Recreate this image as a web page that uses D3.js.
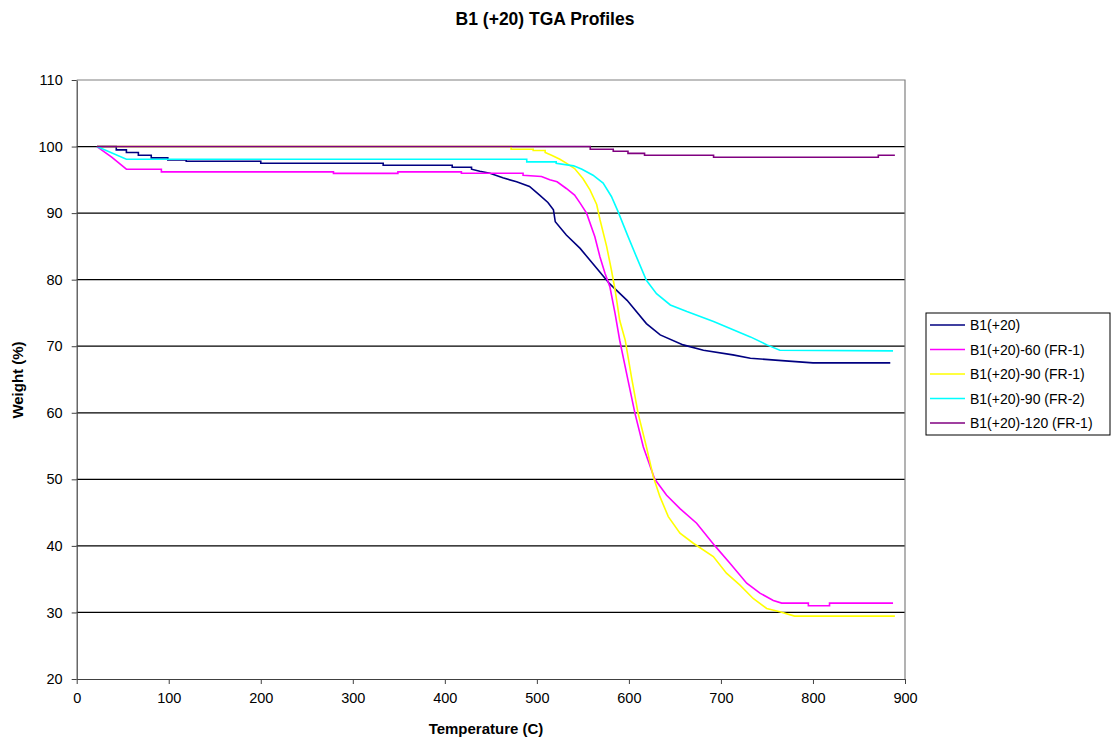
<!DOCTYPE html>
<html><head><meta charset="utf-8">
<script src="https://cdn.jsdelivr.net/npm/d3@7"></script>
<style>
body{margin:0;background:#fff;}
text{font-family:"Liberation Sans",Arial,sans-serif;}
</style></head>
<body><svg id="c" width="1112" height="738"></svg>
<script>
const title = "B1 (+20) TGA Profiles";
const xTitle = "Temperature (C)";
const yTitle = "Weight (%)";
const xTicks = [0,100,200,300,400,500,600,700,800,900];
const yTicks = [20,30,40,50,60,70,80,90,100,110];
const seriesNames = ["B1(+20)","B1(+20)-60 (FR-1)","B1(+20)-90 (FR-1)","B1(+20)-90 (FR-2)","B1(+20)-120 (FR-1)"];
const seriesColors = ["#000080","#FF00FF","#FFFF00","#00FFFF","#800080"];

const b1 = [[22,100],[43,100],[43,99.5],[54,99.5],[54,99.1],[67,99.1],[67,98.7],[81,98.7],[81,98.3],[99,98.3],[99,98.0],[119,98.0],[119,97.8],[200,97.8],[200,97.5],[333,97.5],[333,97.2],[408,97.2],[408,96.9],[429,96.9],[429,96.6],[438,96.3],[449,96.0],[463,95.3],[478,94.7],[492,94.0],[503,92.7],[512,91.6],[518,90.5],[520,88.7],[532,86.7],[547,84.7],[565,81.7],[579,79.4],[598,76.9],[619,73.4],[634,71.7],[659,70.2],[681,69.4],[713,68.7],[732,68.2],[770,67.8],[800,67.5],[884,67.5]];
const b1_60 = [[22,100],[38,98.4],[54,96.6],[92,96.6],[92,96.2],[279,96.2],[279,95.97],[349,95.97],[349,96.2],[418,96.2],[418,96.0],[485,96.0],[485,95.7],[505,95.5],[514,95.0],[522,94.7],[532,93.7],[541,92.7],[547,91.5],[554,90.0],[563,86.45],[568.5,83.45],[574,80.95],[579.4,78.9],[585,74.9],[590,70.9],[599,64.9],[606.6,59.9],[615.6,54.9],[628,50.05],[641,47.6],[655.5,45.6],[673.6,43.4],[693.5,40.0],[709.8,37.4],[728,34.4],[742.4,32.9],[756.9,31.8],[766,31.4],[795,31.4],[795,31.0],[818,31.0],[818,31.4],[887,31.4]];
const b1_90a = [[22,100],[472,100],[472,99.6],[496,99.6],[496,99.4],[509,99.4],[509,99.1],[516,98.7],[525,98.1],[532,97.5],[541,96.7],[550,95.2],[557.7,93.5],[565,91.3],[568.6,89.0],[575.8,85.0],[581,81.45],[585,78.45],[590,73.9],[596,70.9],[603,65.2],[610,59.9],[619,54.9],[626.5,50.4],[633.7,47.4],[642.8,44.4],[655.5,41.9],[670,40.4],[691.7,38.4],[706,35.9],[720.7,34.1],[735,32.1],[749.7,30.6],[764,30.1],[780,29.45],[889,29.45]];
const b1_90b = [[22,100],[54,98.1],[489,98.1],[489,97.7],[521,97.7],[521,97.5],[540,97.1],[549,96.6],[561,95.7],[572,94.5],[581,92.5],[588,90.3],[599,86.5],[608,83.5],[619,79.9],[630,77.9],[645,76.2],[663,75.2],[692,73.7],[732,71.4],[750,70.2],[764,69.4],[887,69.3]];
const b1_120 = [[22,100],[558,100],[558,99.6],[583,99.6],[583,99.3],[599,99.3],[599,98.98],[617,98.98],[617,98.7],[692,98.7],[692,98.4],[871,98.4],[871,98.7],[889,98.7]];
const seriesData = [b1,b1_60,b1_90a,b1_90b,b1_120];

const svg = d3.select("#c");
const L=76.7, R=905, T=80, B=679;
const x = d3.scaleLinear().domain([0,900]).range([L,R]);
const y = d3.scaleLinear().domain([20,110]).range([B,T]);

// gridlines
svg.append("g").selectAll("line").data(yTicks.filter(v=>v>20 && v<110)).join("line")
  .attr("x1",L).attr("x2",R).attr("y1",d=>y(d)).attr("y2",d=>y(d))
  .attr("stroke","#000").attr("stroke-width",1.2);
// plot border top/right
svg.append("path").attr("d",`M${L},${T}H${R}V${B}`).attr("fill","none").attr("stroke","#808080").attr("stroke-width",1.2);

// axes
const xAxis = d3.axisBottom(x).tickValues(xTicks).tickSize(5).tickPadding(9).tickSizeOuter(0);
const gx = svg.append("g").attr("transform",`translate(0,${B})`).call(xAxis);
const yAxis = d3.axisLeft(y).tickValues(yTicks).tickSize(5).tickPadding(9).tickSizeOuter(0);
const gy = svg.append("g").attr("transform",`translate(${L},0)`).call(yAxis);
[gx,gy].forEach(g=>{
  g.select(".domain").attr("stroke","#404040").attr("stroke-width",1.2);
  g.selectAll(".tick line").attr("stroke","#404040");
  g.selectAll(".tick text").attr("font-size",14.5).attr("fill","#000").attr("font-family","Liberation Sans, Arial, sans-serif");
});

// series
const line = d3.line().x(d=>x(d[0])).y(d=>y(d[1]));
svg.append("g").selectAll("path").data(seriesData).join("path")
  .attr("d",line).attr("fill","none")
  .attr("stroke",(d,i)=>seriesColors[i]).attr("stroke-width",1.6);

// titles
svg.append("text").attr("x",545).attr("y",25).attr("text-anchor","middle")
  .attr("font-size",17.5).attr("font-weight","bold").text(title);
svg.append("text").attr("x",486).attr("y",734).attr("text-anchor","middle")
  .attr("font-size",15).attr("font-weight","bold").text(xTitle);
svg.append("text").attr("transform","translate(23,380) rotate(-90)").attr("text-anchor","middle")
  .attr("font-size",15).attr("font-weight","bold").text(yTitle);

// legend
const lg = svg.append("g");
lg.append("rect").attr("x",926).attr("y",313).attr("width",184).attr("height",122)
  .attr("fill","#fff").attr("stroke","#000").attr("stroke-width",1);
const items = lg.selectAll("g.it").data(seriesNames).join("g").attr("class","it")
  .attr("transform",(d,i)=>`translate(0,${325+i*24.5})`);
items.append("line").attr("x1",930).attr("x2",965).attr("y1",0).attr("y2",0)
  .attr("stroke",(d,i)=>seriesColors[i]).attr("stroke-width",1.5);
items.append("text").attr("x",970).attr("y",5).attr("font-size",14).text(d=>d);
</script></body></html>
